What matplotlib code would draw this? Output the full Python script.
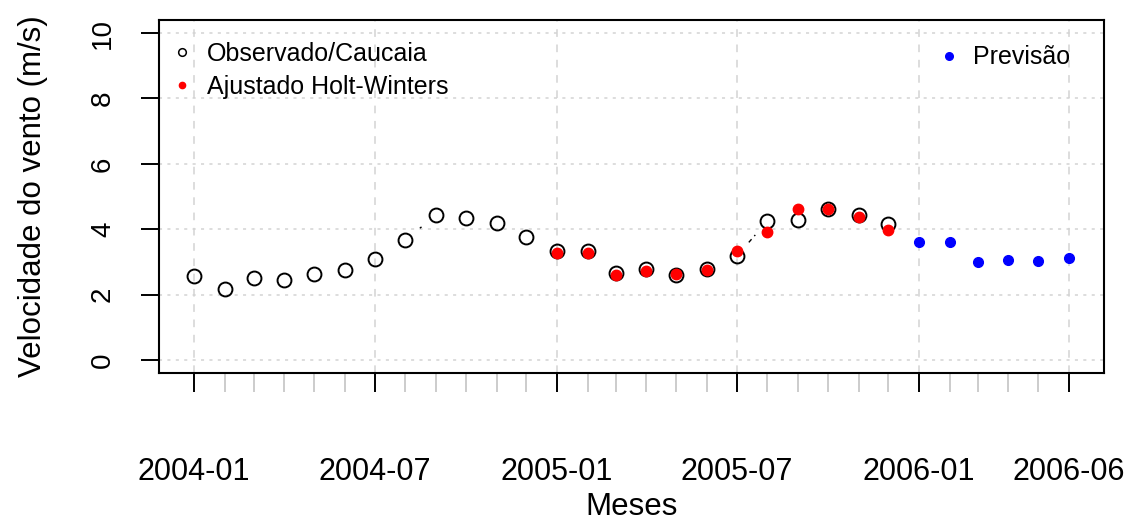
import numpy as np
import pandas as pd
import matplotlib
matplotlib.use("Agg")
import matplotlib.pyplot as plt
import matplotlib.dates as mdates
from matplotlib.lines import Line2D

plt.rcParams['font.family'] = ['Liberation Sans', 'DejaVu Sans']

# dados (velocidade media mensal do vento, m/s)
meses_obs = pd.date_range("2004-01-01", "2005-12-01", freq="MS")
observado = [2.58, 2.16, 2.51, 2.46, 2.64, 2.76, 3.08, 3.68, 4.42, 4.35, 4.18, 3.76,
             3.32, 3.32, 2.67, 2.79, 2.61, 2.78, 3.17, 4.25, 4.29, 4.61, 4.44, 4.15]
meses_aj = pd.date_range("2005-01-01", "2005-12-01", freq="MS")
ajustado = [3.27, 3.27, 2.59, 2.72, 2.64, 2.76, 3.32, 3.92, 4.61, 4.61, 4.37, 3.99]
meses_prev = pd.date_range("2006-01-01", "2006-06-01", freq="MS")
previsao = [3.62, 3.62, 3.01, 3.07, 3.02, 3.13]

marcas = pd.to_datetime(["2004-01-01", "2004-07-01", "2005-01-01", "2005-07-01",
                         "2006-01-01", "2006-06-01"])
todos_meses = pd.date_range("2004-01-01", "2006-06-01", freq="MS")

fig = plt.figure(figsize=(11.3, 5.23), dpi=100)
ax = fig.add_axes([159/1130, 1 - 373/523, (1104-159)/1130, (373-20)/523])

x0 = mdates.date2num(todos_meses[0])
x1 = mdates.date2num(todos_meses[-1])
ext = (x1 - x0) * 0.04
ax.set_xlim(x0 - ext, x1 + ext)
ax.set_ylim(-0.4, 10.4)

# grade
for d in marcas:
    ax.axvline(d, color='lightgray', lw=1.1, ls=(0, (5, 5)), zorder=0)
for v in range(0, 11, 2):
    ax.axhline(v, color='lightgray', lw=1.1, ls=(0, (2, 3.5)), zorder=0)

# linha tracejada do observado com espacos em torno dos pontos (tipo "b")
xo = mdates.date2num(meses_obs)
yo = np.array(observado)
pts = ax.transData.transform(np.column_stack([xo, yo]))
gap = 18.5
for i in range(len(xo) - 1):
    p, q = pts[i], pts[i + 1]
    d = np.hypot(*(q - p))
    if d > 2 * gap:
        a = p + (q - p) * gap / d
        b = q - (q - p) * gap / d
        seg = ax.transData.inverted().transform([a, b])
        ax.plot(seg[:, 0], seg[:, 1], color='black', lw=1.0, ls=(0, (3, 3)))

ax.plot(meses_obs, observado, 'o', mfc='none', mec='black', ms=10, mew=1.4, ls='none')
ax.plot(meses_aj, ajustado, 'o', color='red', ms=7.5, ls='none')
ax.plot(meses_prev, previsao, 'o', color='blue', ms=7, ls='none')

# eixos
ax.set_xticks(marcas)
ax.xaxis.set_major_formatter(mdates.DateFormatter('%Y-%m'))
ax.set_xticks(todos_meses, minor=True)
ax.tick_params(axis='x', which='major', length=13.7, width=1.4, color='black',
               labelsize=22, pad=46.5)
ax.tick_params(axis='x', which='minor', length=13.7, width=1.4, color='#cccccc')
ax.set_yticks(range(0, 11, 2))
ax.tick_params(axis='y', length=13, width=1.4, labelsize=20, pad=18)
for t in ax.get_yticklabels():
    t.set_rotation(90)
    t.set_va('center')
for s in ax.spines.values():
    s.set_linewidth(1.5)

ax.set_xlabel('Meses', fontsize=22.5, labelpad=4)
ax.set_ylabel('Velocidade do vento (m/s)', fontsize=22.5, labelpad=30)

h1 = [Line2D([], [], ls='none', marker='o', mfc='none', mec='black', ms=5.5, mew=1.1),
      Line2D([], [], ls='none', marker='o', color='red', ms=4.5)]
leg1 = ax.legend(h1, ['Observado/Caucaia', 'Ajustado Holt-Winters'], loc='upper left',
                 bbox_to_anchor=(0.011, 0.939), frameon=False, fontsize=18,
                 handlelength=1, handletextpad=0.5, labelspacing=0.36,
                 borderpad=0, borderaxespad=0)
ax.add_artist(leg1)
h2 = [Line2D([], [], ls='none', marker='o', color='blue', ms=5.5)]
ax.legend(h2, ['Previsão'], loc='upper right', bbox_to_anchor=(0.964, 0.928),
          frameon=False, fontsize=18, handlelength=0.5, handletextpad=0.7,
          borderpad=0, borderaxespad=0)

fig.savefig('out.png', dpi=100)
